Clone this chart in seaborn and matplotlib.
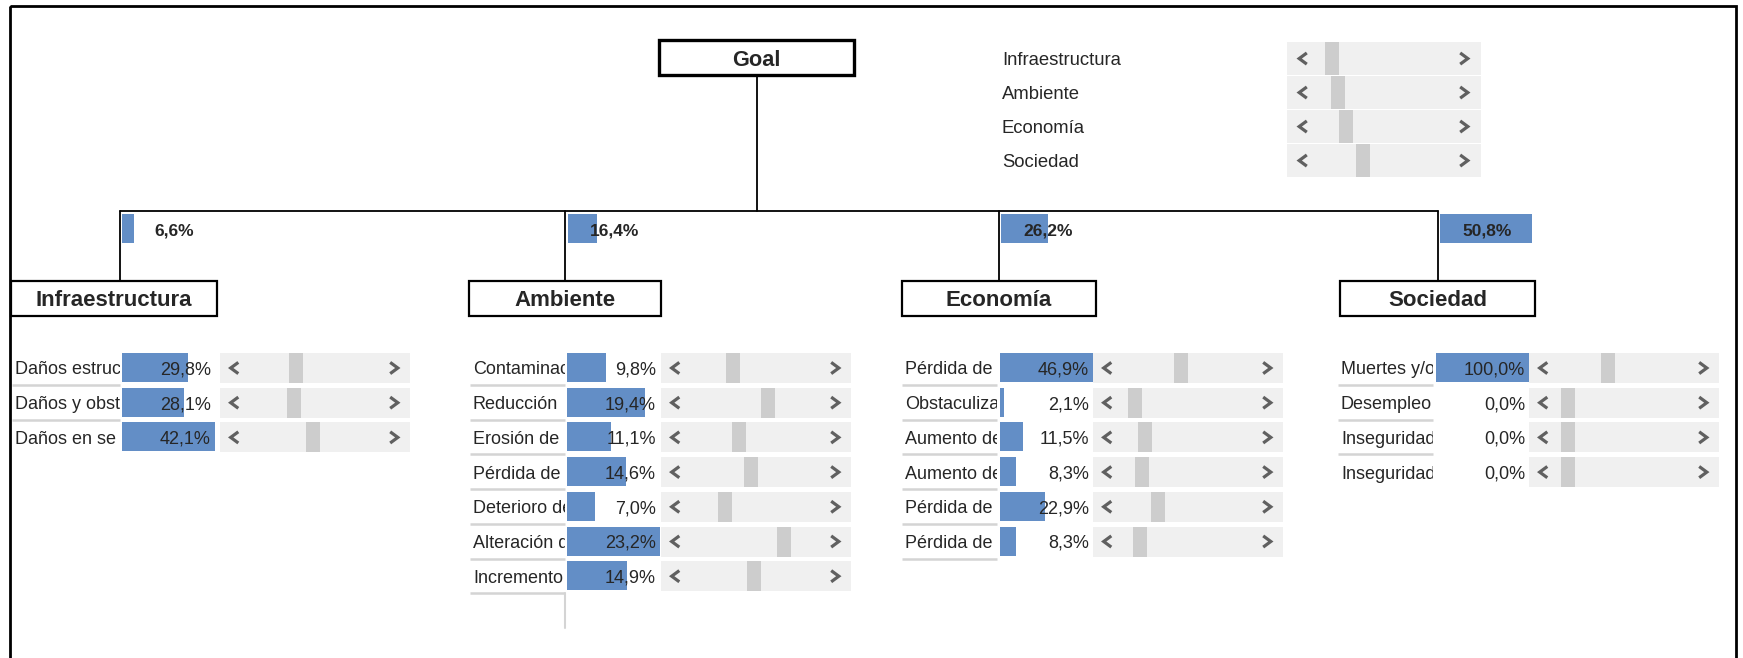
import numpy as np
import pandas as pd
import matplotlib
matplotlib.use("Agg")
import matplotlib.pyplot as plt
import seaborn as sns
from matplotlib.patches import Rectangle
from matplotlib.transforms import Bbox, TransformedBbox

# ---------------- data ----------------
criteria = ["Infraestructura", "Ambiente", "Economía", "Sociedad"]
criteria_weights = [6.6, 16.4, 26.2, 50.8]
criteria_sliders = [0.233, 0.264, 0.304, 0.39]

# sub-criteria labels as they are visible (truncated by their cells)
infra_labels = ["Daños estruc", "Daños y obst", "Daños en se"]
infra_weights = [29.8, 28.1, 42.1]
infra_sliders = [0.40, 0.39, 0.49]

amb_labels = ["Contaminac", "Reducción", "Erosión de", "Pérdida de", "Deterioro de",
              "Alteración d", "Incremento"]
amb_weights = [9.8, 19.4, 11.1, 14.6, 7.0, 23.2, 14.9]
amb_sliders = [0.38, 0.565, 0.41, 0.475, 0.335, 0.65, 0.49]

eco_labels = ["Pérdida de", "Obstaculizac", "Aumento de", "Aumento de", "Pérdida de", "Pérdida de"]
eco_weights = [46.9, 2.1, 11.5, 8.3, 22.9, 8.3]
eco_sliders = [0.465, 0.22, 0.275, 0.26, 0.34, 0.25]

soc_labels = ["Muertes y/o", "Desempleo", "Inseguridad", "Inseguridad"]
soc_weights = [100.0, 0.0, 0.0, 0.0]
soc_sliders = [0.415, 0.205, 0.205, 0.205]

goal_label = "Goal"

# ---------------- style ----------------
sns.set_theme(style="white")
plt.rcParams['font.family'] = ['Liberation Sans', 'DejaVu Sans']

BLUE = "#638EC6"
SB_BG = "#F0F0F0"
SB_TH = "#CDCDCD"
ARW = "#606060"
SEP = "#D4D4D4"
TY = 2.5  # visual centring offset for text

W, H = 1743, 658
fig = plt.figure(figsize=(W / 100, H / 100), dpi=100)
fig.patch.set_facecolor("white")
ax = fig.add_axes([0, 0, 1, 1], zorder=2)
ax.set_xlim(0, W)
ax.set_ylim(H, 0)
ax.axis("off")


def fmt(v):
    return f"{v:.1f}%".replace(".", ",")


def bar_axes(x0, y0, w, h, values, vmax, width):
    n = len(values)
    iax = fig.add_axes([x0 / W, 1 - (y0 + h) / H, w / W, h / H], zorder=1)
    df = pd.DataFrame({"row": [str(i) for i in range(n)], "val": values})
    sns.barplot(data=df, x="val", y="row", orient="h", color=BLUE, saturation=1,
                width=width, linewidth=0, errorbar=None, ax=iax)
    iax.set_xlim(0, vmax)
    iax.set_ylim(n - 0.5, -0.5)
    iax.axis("off")
    return iax


def chevron(cx, cy, d):
    hw, hh = 3.8, 5.6
    ax.plot([cx - d * hw, cx + d * hw, cx - d * hw], [cy - hh, cy, cy + hh], color=ARW,
            lw=2.3, solid_joinstyle="miter", solid_capstyle="butt")


def scrollbar(x0, top, w, h, frac, tw, arrow_l, arrow_r):
    ax.add_patch(Rectangle((x0, top), w, h, facecolor=SB_BG, edgecolor="none"))
    c = x0 + frac * w
    ax.add_patch(Rectangle((c - tw / 2, top), tw, h, facecolor=SB_TH, edgecolor="none"))
    chevron(x0 + arrow_l, top + h / 2, -1)
    chevron(x0 + arrow_r, top + h / 2, 1)


# outer frame
ax.add_patch(Rectangle((10.5, 5.5), 1736.5 - 10.5, 720, facecolor="none",
                       edgecolor="black", lw=2.0, clip_on=False))

# goal box
ax.add_patch(Rectangle((659, 39.5), 195, 35.5, facecolor="white", edgecolor="black", lw=2.4))
ax.text(756.5, 57.5 + TY, goal_label, ha="center", va="center", fontsize=15.7, fontweight="bold")

# connector lines
ax.plot([757, 757], [75, 211], color="black", lw=1.3)
drops = [120, 565.5, 999, 1438]
ax.plot([drops[0], drops[-1]], [211, 211], color="black", lw=1.3)
for dx in drops:
    ax.plot([dx, dx], [211, 281], color="black", lw=1.3)

# category boxes
boxes = [(11.5, 217), (469, 661), (902, 1096), (1340, 1535)]
for (bx0, bx1), name in zip(boxes, criteria):
    ax.add_patch(Rectangle((bx0, 281), bx1 - bx0, 35, facecolor="white", edgecolor="black", lw=1.6))
    ax.text((bx0 + bx1) / 2, 298.5 + TY, name, ha="center", va="center", fontsize=16,
            fontweight="bold")

# top-level bars
vmax_top = max(criteria_weights)
for dx, val in zip(drops, criteria_weights):
    cx = dx + 2
    bar_axes(cx, 214, 92, 29, [val], vmax_top, 1.0)
    ax.text(cx + 72, 228.5 + TY, fmt(val), ha="right", va="center", fontsize=12.5,
            fontweight="bold")

# top-right slider panel
for i, (name, frac) in enumerate(zip(criteria, criteria_sliders)):
    top = 42.3 + i * 34
    ax.text(1002, top + 16 + TY, name, ha="left", va="center", fontsize=13.3)
    scrollbar(1287, top, 194, 32.5, frac, 14, 16, 177)

# sub-criteria groups
groups = [
    dict(lx=12, lw=108, cx=122, sx=220, labels=infra_labels, w=infra_weights, s=infra_sliders, last=False),
    dict(lx=470, lw=95, cx=567, sx=661, labels=amb_labels, w=amb_weights, s=amb_sliders, last=True),
    dict(lx=902, lw=95, cx=1000, sx=1093, labels=eco_labels, w=eco_weights, s=eco_sliders, last=True),
    dict(lx=1338, lw=95, cx=1436, sx=1529, labels=soc_labels, w=soc_weights, s=soc_sliders, last=False),
]
T, P, BH = 353, 34.7, 29
for gi, g in enumerate(groups):
    n = len(g["w"])
    bar_axes(g["cx"], T - (P - BH) / 2, 93, n * P, g["w"], max(g["w"]), BH / P)
    clip = TransformedBbox(Bbox.from_extents(g["lx"], T - 10, g["lx"] + g["lw"], T + n * P + 10),
                           ax.transData)
    for i, (lab, val, frac) in enumerate(zip(g["labels"], g["w"], g["s"])):
        top = T + i * P
        t = ax.text(g["lx"] + 3, top + BH / 2 + TY, lab, ha="left", va="center", fontsize=13)
        t.set_clip_box(clip)
        t.set_clip_on(True)
        ax.text(g["cx"] + 89, top + BH / 2 + TY, fmt(val), ha="right", va="center", fontsize=13)
        if i < n - 1 or g["last"]:
            ax.plot([g["lx"], g["lx"] + g["lw"]], [top + 32, top + 32], color=SEP, lw=1.8,
                    solid_capstyle="butt")
        scrollbar(g["sx"], top, 190, 30, frac, 14, 14.5, 174)
    if gi == 1:
        yb = T + (n - 1) * P + 32
        ax.plot([g["lx"] + g["lw"], g["lx"] + g["lw"]], [yb, yb + 35], color=SEP, lw=1.5)

fig.savefig("out.png", dpi=100, facecolor="white")
